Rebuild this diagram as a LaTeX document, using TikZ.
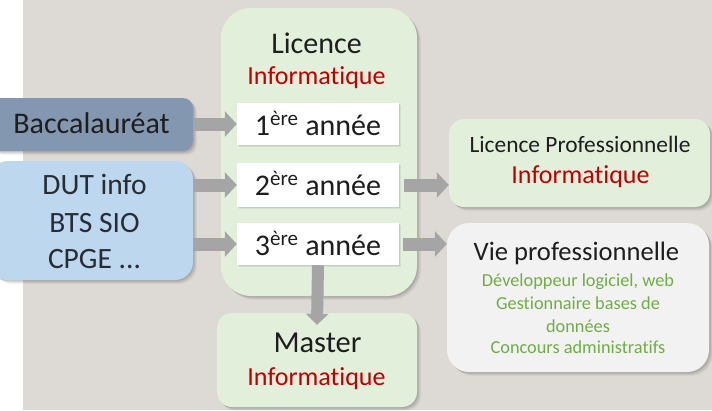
\documentclass[tikz,border=0pt]{standalone}
\usepackage{fontspec}
\setmainfont[Ligatures=NoCommon]{Carlito}
\usetikzlibrary{arrows.meta,shadows,calc}
\definecolor{bggray}{RGB}{221,218,213}
\definecolor{licgreen}{RGB}{226,239,218}
\definecolor{baccblue}{RGB}{132,151,176}
\definecolor{dutblue}{RGB}{189,215,238}
\definecolor{vielight}{RGB}{242,242,242}
\definecolor{arrowgray}{RGB}{165,165,165}
\definecolor{infored}{RGB}{192,0,0}
\definecolor{jobgreen}{RGB}{112,173,71}
\definecolor{darktext}{RGB}{30,30,30}
\definecolor{duttext}{RGB}{40,44,52}
\begin{document}
\begin{tikzpicture}[x=1pt,y=-1pt,
  box/.style={draw=none,inner sep=0pt,rectangle,
    drop shadow={shadow xshift=1pt,shadow yshift=-1pt,opacity=.07,fill=black},
    drop shadow={shadow xshift=2pt,shadow yshift=-2pt,opacity=.07,fill=black},
    drop shadow={shadow xshift=3pt,shadow yshift=-3pt,opacity=.06,fill=black},
    drop shadow={shadow xshift=4pt,shadow yshift=-4pt,opacity=.04,fill=black}},
  yearbox/.style={draw=none,inner sep=0pt,rectangle,fill=white,minimum width=162pt,
    drop shadow={shadow xshift=1pt,shadow yshift=-1pt,opacity=.08,fill=black},
    drop shadow={shadow xshift=2pt,shadow yshift=-2pt,opacity=.06,fill=black},
    font=\fontsize{30}{36}\selectfont,text=darktext},
  txt/.style={anchor=base,inner sep=0pt,text=darktext},
  red/.style={txt,text=infored,font=\fontsize{26}{31}\selectfont},
  job/.style={txt,text=jobgreen,font=\fontsize{18.3}{22}\selectfont},
  blockarrow/.style={draw=arrowgray,line width=13pt,-{Triangle[length=12pt,width=25pt]}},
  downarrow/.style={draw=arrowgray,line width=12pt,-{Triangle[length=11pt,width=22pt]}}]
\useasboundingbox (0,0) rectangle (712,410);
\clip (0,0) rectangle (712,410);
\fill[white] (0,0) rectangle (712,410);
\fill[bggray] (23,0) rectangle (712,410);

% boxes
\node[box,fill=licgreen,rounded corners=30pt,minimum width=196pt,minimum height=288pt] (lic) at (319,152) {};
\node[box,fill=baccblue,rounded corners=10pt,minimum width=203pt,minimum height=53pt] (bacc) at (91.5,124.5) {};
\node[box,fill=dutblue,rounded corners=18pt,minimum width=203pt,minimum height=119pt] (dut) at (91.5,220.5) {};
\node[box,fill=licgreen,rounded corners=15pt,minimum width=261pt,minimum height=88pt] (lp) at (579.5,163) {};
\node[box,fill=vielight,rounded corners=22pt,minimum width=262pt,minimum height=149pt] (vie) at (578,297.5) {};
\node[box,fill=licgreen,rounded corners=15pt,minimum width=200pt,minimum height=94pt] (master) at (317,360) {};

\node[yearbox,text height=32pt,text depth=10pt] (y1) at (318,124) {1\textsuperscript{ère} année};
\node[yearbox,text height=32pt,text depth=12pt] (y2) at (318,185) {2\textsuperscript{ère} année};
\node[yearbox,text height=32pt,text depth=10pt] (y3) at (318,244) {3\textsuperscript{ère} année};

% texts
\node[txt,font=\fontsize{30}{36}\selectfont] (lictitle) at (316.5,53) {Licence};
\node[red] (licinfo) at (316.5,84) {Informatique};
\node[txt,font=\fontsize{30}{36}\selectfont] (bacctext) at (91.5,133) {Baccalauréat};
\node[txt,font=\fontsize{29.5}{36}\selectfont,text=duttext] (dut1) at (94.5,194) {DUT info};
\node[txt,font=\fontsize{29.5}{36}\selectfont,text=duttext] (dut2) at (94.5,232) {BTS SIO};
\node[txt,font=\fontsize{29.5}{36}\selectfont,text=duttext] (dut3) at (94.5,268) {CPGE ...};
\node[txt,font=\fontsize{23.4}{28}\selectfont] (lptitle) at (580,152) {Licence Professionnelle};
\node[red] (lpinfo) at (580.5,183) {Informatique};
\node[txt,font=\fontsize{26.6}{32}\selectfont] (vietitle) at (576.5,260) {Vie professionnelle};
\node[job] (job1) at (578,286) {Développeur logiciel, web};
\node[job] (job2) at (578,309) {Gestionnaire bases de};
\node[job] (job3) at (578,332) {données};
\node[job] (job4) at (578,353) {Concours administratifs};
\node[txt,font=\fontsize{30.5}{36}\selectfont] (mastertitle) at (317.5,352) {Master};
\node[red] (masterinfo) at (316.5,385) {Informatique};

% arrows
\draw[blockarrow] (bacc.east |- y1.west) -- (y1.west);
\draw[blockarrow] (dut.east |- y2.west) -- (y2.west);
\draw[blockarrow] (dut.east |- y3.west) -- (y3.west);
\draw[blockarrow,shorten <=5pt] (y2.east) -- (y2.east -| lp.west);
\draw[blockarrow,shorten <=4pt] (y3.east) -- (y3.east -| vie.west);
\draw[downarrow] (y3.south) -- ($(master.north)+(0,12)$);
\end{tikzpicture}
\end{document}
